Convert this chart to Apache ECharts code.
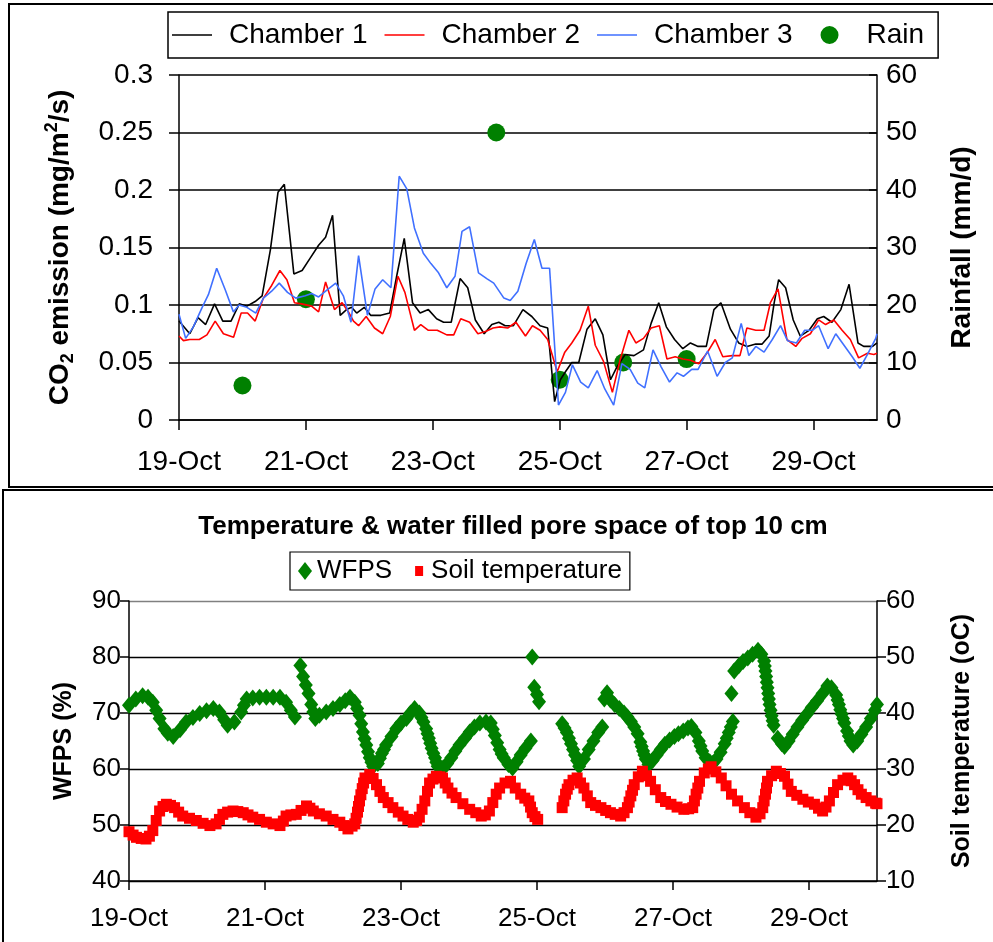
<!DOCTYPE html>
<html>
<head>
<meta charset="utf-8">
<script src="https://cdn.jsdelivr.net/npm/echarts@6/dist/echarts.min.js"></script>
<style>
html,body{margin:0;padding:0;background:#fff;}
#chart{width:993px;height:942px;}
</style>
</head>
<body>
<div id="chart"></div>
<script>
// ---------- DATA (x = days after 19-Oct 00:00) ----------
const xTickLabels = ['19-Oct', '21-Oct', '23-Oct', '25-Oct', '27-Oct', '29-Oct'];

const chamber1 = [[0,0.086],[0.17,0.075],[0.30,0.089],[0.42,0.083],[0.56,0.101],[0.69,0.086],[0.82,0.086],[0.95,0.101],[1.07,0.099],[1.20,0.103],[1.31,0.108],[1.44,0.148],[1.56,0.198],[1.66,0.205],[1.81,0.127],[1.94,0.130],[2.07,0.141],[2.20,0.152],[2.31,0.159],[2.42,0.178],[2.54,0.091],[2.64,0.096],[2.72,0.098],[2.80,0.093],[2.92,0.098],[3.02,0.091],[3.18,0.091],[3.32,0.093],[3.43,0.125],[3.55,0.158],[3.68,0.102],[3.80,0.093],[3.93,0.096],[4.06,0.088],[4.17,0.085],[4.29,0.085],[4.43,0.123],[4.55,0.115],[4.67,0.087],[4.81,0.075],[4.93,0.083],[5.04,0.085],[5.14,0.082],[5.27,0.082],[5.42,0.096],[5.56,0.090],[5.69,0.082],[5.81,0.080],[5.92,0.016],[6.01,0.035],[6.09,0.042],[6.19,0.050],[6.30,0.050],[6.43,0.079],[6.56,0.088],[6.68,0.074],[6.80,0.035],[6.90,0.046],[7.03,0.057],[7.17,0.056],[7.32,0.061],[7.44,0.084],[7.56,0.102],[7.68,0.081],[7.81,0.070],[7.94,0.062],[8.06,0.067],[8.18,0.064],[8.31,0.064],[8.43,0.096],[8.54,0.102],[8.69,0.079],[8.82,0.067],[8.95,0.064],[9.09,0.066],[9.19,0.066],[9.30,0.073],[9.38,0.102],[9.45,0.122],[9.56,0.115],[9.68,0.087],[9.79,0.073],[9.93,0.078],[10.06,0.088],[10.16,0.090],[10.29,0.085],[10.43,0.096],[10.56,0.118],[10.70,0.067],[10.79,0.064],[10.93,0.064],[11.0,0.067]];

const chamber2 = [[0,0.073],[0.07,0.069],[0.17,0.070],[0.32,0.070],[0.44,0.074],[0.57,0.086],[0.70,0.075],[0.86,0.072],[0.98,0.093],[1.08,0.093],[1.20,0.086],[1.33,0.106],[1.46,0.117],[1.59,0.130],[1.70,0.122],[1.82,0.102],[1.93,0.101],[2.09,0.099],[2.20,0.094],[2.31,0.120],[2.45,0.096],[2.57,0.102],[2.67,0.094],[2.75,0.086],[2.83,0.082],[2.95,0.090],[3.08,0.080],[3.21,0.075],[3.33,0.090],[3.45,0.125],[3.56,0.111],[3.71,0.078],[3.81,0.083],[3.93,0.078],[4.07,0.078],[4.22,0.074],[4.33,0.074],[4.44,0.088],[4.58,0.085],[4.71,0.075],[4.83,0.077],[4.95,0.080],[5.06,0.081],[5.18,0.080],[5.31,0.085],[5.46,0.073],[5.57,0.082],[5.69,0.078],[5.81,0.070],[5.96,0.042],[6.08,0.059],[6.19,0.067],[6.32,0.078],[6.45,0.099],[6.56,0.065],[6.69,0.051],[6.83,0.024],[6.95,0.052],[7.09,0.078],[7.20,0.067],[7.32,0.071],[7.44,0.080],[7.57,0.082],[7.69,0.053],[7.82,0.055],[7.94,0.053],[8.06,0.052],[8.19,0.049],[8.33,0.059],[8.45,0.070],[8.57,0.055],[8.72,0.056],[8.84,0.056],[8.95,0.080],[9.09,0.078],[9.22,0.078],[9.32,0.102],[9.44,0.114],[9.58,0.070],[9.72,0.064],[9.82,0.071],[9.95,0.075],[10.08,0.087],[10.19,0.083],[10.32,0.087],[10.45,0.078],[10.58,0.070],[10.71,0.054],[10.85,0.058],[10.95,0.057],[11.0,0.058]];

const chamber3 = [[0,0.092],[0.105,0.071],[0.226,0.081],[0.358,0.097],[0.463,0.109],[0.594,0.132],[0.73,0.113],[0.857,0.094],[0.946,0.100],[1.07,0.098],[1.21,0.093],[1.33,0.106],[1.46,0.112],[1.58,0.119],[1.71,0.111],[1.84,0.106],[1.99,0.108],[2.09,0.110],[2.20,0.107],[2.33,0.113],[2.47,0.119],[2.59,0.108],[2.71,0.085],[2.83,0.143],[2.97,0.091],[3.09,0.114],[3.21,0.122],[3.34,0.115],[3.47,0.212],[3.59,0.201],[3.71,0.167],[3.85,0.145],[3.97,0.136],[4.09,0.128],[4.22,0.115],[4.35,0.125],[4.46,0.164],[4.58,0.168],[4.72,0.128],[4.85,0.123],[4.96,0.119],[5.12,0.106],[5.22,0.104],[5.34,0.112],[5.47,0.136],[5.60,0.157],[5.72,0.132],[5.84,0.132],[5.98,0.013],[6.09,0.024],[6.20,0.048],[6.33,0.033],[6.45,0.028],[6.59,0.043],[6.71,0.027],[6.85,0.013],[6.98,0.049],[7.11,0.044],[7.23,0.032],[7.34,0.028],[7.47,0.061],[7.60,0.046],[7.73,0.033],[7.85,0.041],[7.95,0.038],[8.08,0.044],[8.18,0.044],[8.33,0.060],[8.48,0.038],[8.61,0.050],[8.72,0.054],[8.86,0.084],[8.98,0.056],[9.09,0.064],[9.22,0.059],[9.35,0.070],[9.48,0.082],[9.59,0.069],[9.73,0.067],[9.86,0.078],[9.98,0.078],[10.08,0.082],[10.23,0.062],[10.35,0.075],[10.48,0.065],[10.61,0.055],[10.73,0.045],[10.85,0.057],[10.98,0.071],[11.0,0.075]];

const rain = [[1,6],[2,21],[5,50],[6,7],[7,10],[8,10.6]];

const wfps = [[0,71.4],[0.1,72.5],[0.2,73.1],[0.28,72.8],[0.35,71.9],[0.40,70.5],[0.45,69.0],[0.52,67.2],[0.57,66.4],[0.65,65.8],[0.75,67.0],[0.84,68.4],[0.94,69.2],[1.04,69.9],[1.14,70.4],[1.24,70.8],[1.33,70.2],[1.40,68.8],[1.45,67.8],[1.55,68.4],[1.65,70.2],[1.69,71.4],[1.73,72.5],[1.82,72.7],[1.92,72.8],[2.02,72.8],[2.12,72.8],[2.22,72.8],[2.31,71.9],[2.38,70.5],[2.44,69.3],[2.52,78.5],[2.56,76.5],[2.60,75.0],[2.64,73.5],[2.68,71.5],[2.71,70.2],[2.74,69.0],[2.80,69.6],[2.90,70.2],[3.00,70.8],[3.10,71.5],[3.18,72.2],[3.25,72.8],[3.32,71.9],[3.355,70.8],[3.39,69.6],[3.415,68.1],[3.44,66.6],[3.465,65.4],[3.49,64.3],[3.515,63.1],[3.54,62.0],[3.565,61.2],[3.59,60.5],[3.66,61.0],[3.69,61.9],[3.72,62.8],[3.75,63.5],[3.78,64.3],[3.86,65.8],[3.93,67.2],[4.00,68.2],[4.08,69.0],[4.14,70.0],[4.20,70.8],[4.27,70.0],[4.30,69.2],[4.33,68.4],[4.37,67.2],[4.39,66.3],[4.41,65.5],[4.43,64.6],[4.45,63.7],[4.475,62.8],[4.50,62.0],[4.52,61.2],[4.54,60.5],[4.62,60.2],[4.68,61.0],[4.74,62.0],[4.80,63.2],[4.86,64.3],[4.94,65.5],[5.01,66.6],[5.08,67.5],[5.16,68.2],[5.25,68.4],[5.32,68.2],[5.35,67.1],[5.38,66.0],[5.415,64.7],[5.45,63.5],[5.48,62.7],[5.51,62.0],[5.58,60.8],[5.64,60.2],[5.70,61.3],[5.76,62.5],[5.83,63.7],[5.91,65.0],[5.93,80.0],[5.96,74.6],[6.0,73.3],[6.03,72.0],[6.37,68.1],[6.405,67.3],[6.44,66.5],[6.47,65.5],[6.50,64.5],[6.53,63.5],[6.56,62.5],[6.59,61.5],[6.62,60.5],[6.69,61.8],[6.76,63.5],[6.83,65.0],[6.90,66.5],[6.96,67.5],[6.99,72.5],[7.03,73.6],[7.08,72.3],[7.14,71.5],[7.21,70.8],[7.28,70.0],[7.33,69.3],[7.38,68.5],[7.43,67.5],[7.48,66.3],[7.52,64.8],[7.54,64.0],[7.56,63.2],[7.58,62.5],[7.60,61.8],[7.64,60.8],[7.70,61.5],[7.76,62.5],[7.82,63.5],[7.88,64.4],[7.95,65.2],[8.02,65.8],[8.08,66.3],[8.15,66.8],[8.22,67.3],[8.27,67.6],[8.33,66.5],[8.38,65.0],[8.405,64.1],[8.43,63.2],[8.48,62.0],[8.54,61.3],[8.58,61.0],[8.64,61.8],[8.70,63.0],[8.76,64.5],[8.79,65.5],[8.82,66.5],[8.85,67.5],[8.88,68.5],[8.86,73.5],[8.90,77.5],[8.97,78.5],[9.03,79.2],[9.10,79.8],[9.17,80.5],[9.25,81.2],[9.30,80.5],[9.34,79.3],[9.35,78.4],[9.36,77.5],[9.37,76.5],[9.38,75.5],[9.39,74.5],[9.40,73.5],[9.41,72.5],[9.42,71.5],[9.435,70.5],[9.45,69.5],[9.465,68.6],[9.48,67.8],[9.54,65.5],[9.60,64.5],[9.64,64.0],[9.70,65.0],[9.76,66.2],[9.83,67.5],[9.90,68.7],[9.97,69.8],[10.04,71.0],[10.12,72.2],[10.20,73.5],[10.27,74.8],[10.33,74.5],[10.40,73.2],[10.42,72.3],[10.44,71.5],[10.46,70.6],[10.48,69.8],[10.50,69.0],[10.52,68.2],[10.56,66.8],[10.585,65.9],[10.61,65.0],[10.65,64.3],[10.71,65.0],[10.77,66.2],[10.84,67.5],[10.91,69.0],[10.97,70.5],[11.0,71.5]];

const soilTemp = [[0,18.8],[0.06,18.2],[0.11,17.8],[0.18,17.6],[0.25,17.5],[0.30,18.0],[0.35,19.0],[0.40,20.8],[0.45,22.5],[0.50,23.3],[0.55,23.7],[0.61,23.5],[0.67,23.1],[0.73,22.3],[0.79,21.6],[0.89,21.2],[0.99,20.8],[1.09,20.3],[1.19,19.9],[1.28,20.2],[1.33,21.0],[1.38,21.9],[1.45,22.3],[1.53,22.5],[1.60,22.4],[1.68,22.2],[1.75,21.8],[1.82,21.4],[1.92,21.0],[2.02,20.5],[2.12,20.2],[2.22,19.9],[2.27,20.7],[2.31,21.6],[2.38,21.8],[2.46,21.9],[2.53,22.6],[2.61,23.4],[2.66,23.0],[2.71,22.5],[2.80,22.0],[2.90,21.6],[3.00,21.0],[3.10,20.5],[3.16,19.9],[3.22,19.3],[3.28,19.8],[3.32,20.2],[3.34,21.2],[3.36,22.3],[3.375,23.3],[3.39,24.3],[3.41,25.4],[3.43,26.5],[3.45,27.5],[3.47,28.4],[3.54,29.0],[3.59,28.3],[3.64,27.2],[3.69,26.0],[3.74,24.9],[3.81,24.0],[3.88,23.1],[3.96,22.3],[4.03,21.6],[4.10,21.0],[4.18,20.5],[4.23,20.8],[4.27,21.4],[4.31,22.8],[4.35,24.3],[4.39,26.0],[4.42,27.5],[4.47,28.2],[4.52,28.7],[4.57,28.6],[4.61,28.4],[4.65,27.5],[4.69,26.6],[4.75,25.7],[4.81,24.9],[4.91,23.8],[5.01,22.8],[5.10,22.2],[5.18,21.6],[5.24,21.8],[5.30,22.5],[5.35,24.0],[5.40,25.5],[5.45,26.6],[5.53,27.5],[5.61,27.8],[5.68,26.6],[5.76,25.5],[5.82,24.8],[5.88,24.3],[5.905,23.2],[5.93,22.2],[5.97,21.5],[6.01,21.0],[6.37,23.1],[6.395,24.3],[6.42,25.5],[6.445,26.4],[6.47,27.2],[6.53,28.0],[6.59,28.4],[6.64,27.5],[6.69,26.6],[6.74,25.2],[6.79,24.0],[6.86,23.5],[6.94,23.1],[7.01,22.6],[7.08,22.2],[7.15,21.9],[7.23,21.6],[7.28,22.2],[7.33,23.1],[7.355,24.1],[7.38,25.2],[7.405,26.2],[7.43,27.2],[7.49,28.6],[7.55,29.6],[7.61,28.8],[7.67,27.8],[7.74,26.3],[7.82,24.9],[7.89,24.2],[7.97,23.7],[8.06,23.2],[8.16,22.8],[8.23,22.9],[8.29,23.1],[8.315,24.3],[8.34,25.5],[8.365,26.6],[8.39,27.8],[8.46,29.3],[8.52,30.0],[8.56,30.4],[8.63,29.5],[8.71,28.4],[8.78,27.0],[8.86,25.5],[8.95,24.3],[9.05,23.1],[9.13,22.2],[9.22,21.4],[9.28,22.0],[9.32,23.1],[9.34,24.3],[9.36,25.5],[9.375,26.6],[9.39,27.8],[9.45,28.8],[9.52,29.6],[9.58,29.2],[9.64,28.7],[9.69,27.3],[9.74,26.0],[9.82,25.3],[9.91,24.6],[9.99,24.1],[10.08,23.7],[10.14,23.0],[10.20,22.5],[10.25,23.2],[10.30,24.3],[10.36,25.8],[10.42,27.2],[10.50,28.0],[10.57,28.4],[10.62,27.9],[10.67,27.2],[10.72,26.3],[10.77,25.5],[10.84,24.9],[10.91,24.3],[10.98,23.9],[11.0,23.8]];

// ---------- CHART ----------
const FONT = '"Liberation Sans", Arial, sans-serif';
const chart = echarts.init(document.getElementById('chart'), null, {renderer: 'canvas'});

function xLabel(v) {
  const i = Math.round(v / 2);
  return (Math.abs(v - i * 2) < 1e-6 && xTickLabels[i]) ? xTickLabels[i] : '';
}
const blackLine = {show: true, lineStyle: {color: '#000', width: 1.5}};
const lineIcon = 'path://M0,0L0,0.01M0,8.2L40,8.2L40,9.8L0,9.8ZM40,18L40,17.99';
const dotIcon = 'path://M0,0L0,0.01M11,9A9,9,0,1,0,29,9A9,9,0,1,0,11,9ZM40,18L40,17.99';

const option = {
  backgroundColor: '#fff',
  animation: false,
  textStyle: {fontFamily: FONT, color: '#000'},
  title: {
    text: 'Temperature & water filled pore space of top 10 cm',
    left: 508, top: 509, textAlign: 'center',
    textStyle: {fontFamily: FONT, fontSize: 26, fontWeight: 'bold', color: '#000'}
  },
  legend: [{
    left: 168, top: 12,
    padding: [9, 14, 9, 4],
    borderColor: '#000', borderWidth: 1.5,
    itemWidth: 40, itemHeight: 18, itemGap: 17,
    textStyle: {fontFamily: FONT, fontSize: 28, color: '#000', padding: [0, 0, 0, 12]},
    data: [
      {name: 'Chamber 1', icon: lineIcon},
      {name: 'Chamber 2', icon: lineIcon},
      {name: 'Chamber 3', icon: lineIcon},
      {name: 'Rain', icon: dotIcon}
    ]
  }, {
    left: 290, top: 552,
    padding: [6, 8, 6, 8],
    borderColor: '#000', borderWidth: 1.2,
    itemWidth: 14, itemHeight: 18, itemGap: 20,
    textStyle: {fontFamily: FONT, fontSize: 26, color: '#000'},
    data: [
      {name: 'WFPS', icon: 'path://M7,0L14,9L7,18L0,9Z'},
      {name: 'Soil temperature', icon: 'path://M0,0L0,0.01M3,4L11,4L11,14L3,14ZM14,18L14,17.99'}
    ]
  }],
  grid: [
    {left: 179, top: 75, width: 698, height: 345},
    {left: 129, top: 601, width: 748, height: 280}
  ],
  xAxis: [{
    type: 'value', gridIndex: 0, min: 0, max: 11, interval: 2,
    axisLine: blackLine,
    axisTick: {show: true, inside: false, length: 10, lineStyle: {color: '#000', width: 1.5}},
    axisLabel: {fontSize: 28, color: '#000', margin: 28, formatter: xLabel, showMaxLabel: false},
    splitLine: {show: false}
  }, {
    type: 'value', gridIndex: 1, min: 0, max: 11, interval: 2,
    axisLine: blackLine,
    axisTick: {show: true, inside: false, length: 9, lineStyle: {color: '#000', width: 1.5}},
    axisLabel: {fontSize: 26, color: '#000', margin: 25, formatter: xLabel, showMaxLabel: false},
    splitLine: {show: false}
  }],
  yAxis: [{
    type: 'value', gridIndex: 0, position: 'left', min: 0, max: 0.3, interval: 0.05,
    axisLine: blackLine,
    axisTick: {show: true, inside: false, length: 10, lineStyle: {color: '#000', width: 1.5}},
    axisLabel: {fontSize: 28, color: '#000', margin: 26},
    splitLine: {show: true, lineStyle: {color: '#000', width: 1.5}},
    name: '{a|CO}{sub|2}{a| emission (mg/m}{sup|2}{a|/s)}',
    nameLocation: 'middle', nameRotate: 90, nameGap: 102,
    nameTextStyle: {
      fontFamily: FONT, fontSize: 28, fontWeight: 'bold', color: '#000',
      rich: {
        a: {fontFamily: FONT, fontSize: 28, fontWeight: 'bold', color: '#000', lineHeight: 34},
        sub: {fontFamily: FONT, fontSize: 18, fontWeight: 'bold', color: '#000', verticalAlign: 'bottom', lineHeight: 34},
        sup: {fontFamily: FONT, fontSize: 18, fontWeight: 'bold', color: '#000', verticalAlign: 'top', lineHeight: 34}
      }
    }
  }, {
    type: 'value', gridIndex: 0, position: 'right', min: 0, max: 60, interval: 10,
    axisLine: blackLine,
    axisTick: {show: true, inside: true, length: 8, lineStyle: {color: '#000', width: 1.5}},
    axisLabel: {fontSize: 28, color: '#000', margin: 9},
    splitLine: {show: false},
    name: 'Rainfall (mm/d)', nameLocation: 'middle', nameRotate: 90, nameGap: 71,
    nameTextStyle: {fontFamily: FONT, fontSize: 28, fontWeight: 'bold', color: '#000'}
  }, {
    type: 'value', gridIndex: 1, position: 'left', min: 40, max: 90, interval: 10,
    axisLine: blackLine,
    axisTick: {show: true, inside: false, length: 9, lineStyle: {color: '#000', width: 1.5}},
    axisLabel: {fontSize: 26, color: '#000', margin: 8},
    splitLine: {show: true, lineStyle: {color: ['#000', '#000', '#000', '#000', '#000', '#808080'], width: 1.3}},
    name: 'WFPS (%)', nameLocation: 'middle', nameRotate: 90, nameGap: 52,
    nameTextStyle: {fontFamily: FONT, fontSize: 25, fontWeight: 'bold', color: '#000'}
  }, {
    type: 'value', gridIndex: 1, position: 'right', min: 10, max: 60, interval: 10,
    axisLine: blackLine,
    axisTick: {show: true, inside: false, length: 9, lineStyle: {color: '#000', width: 1.5}},
    axisLabel: {fontSize: 26, color: '#000', margin: 9},
    splitLine: {show: false},
    name: 'Soil temperature (oC)', nameLocation: 'middle', nameRotate: 90, nameGap: 73,
    nameTextStyle: {fontFamily: FONT, fontSize: 25, fontWeight: 'bold', color: '#000'}
  }],
  series: [
    {name: 'Chamber 1', type: 'line', xAxisIndex: 0, yAxisIndex: 0, data: chamber1, symbol: 'none',
     color: '#000000', lineStyle: {color: '#000000', width: 1.6}},
    {name: 'Chamber 2', type: 'line', xAxisIndex: 0, yAxisIndex: 0, data: chamber2, symbol: 'none',
     color: '#ff0000', lineStyle: {color: '#ff0000', width: 1.6}},
    {name: 'Chamber 3', type: 'line', xAxisIndex: 0, yAxisIndex: 0, data: chamber3, symbol: 'none',
     color: '#4070ff', lineStyle: {color: '#4070ff', width: 1.6}},
    {name: 'Rain', type: 'scatter', xAxisIndex: 0, yAxisIndex: 1, data: rain, symbol: 'circle', symbolSize: 18,
     itemStyle: {color: '#008000', opacity: 1}},
    {name: 'WFPS', type: 'scatter', xAxisIndex: 1, yAxisIndex: 2, data: wfps, symbol: 'diamond', symbolSize: [14, 17],
     itemStyle: {color: '#008000', opacity: 1}},
    {name: 'Soil temperature', type: 'scatter', xAxisIndex: 1, yAxisIndex: 3, data: soilTemp, symbol: 'rect', symbolSize: 11,
     itemStyle: {color: '#ff0000', opacity: 1}}
  ],
  graphic: [
    {type: 'rect', shape: {x: 9, y: 4, width: 1100, height: 483}, style: {fill: 'none', stroke: '#000', lineWidth: 2}, silent: true},
    {type: 'rect', shape: {x: 3, y: 490, width: 1100, height: 600}, style: {fill: 'none', stroke: '#000', lineWidth: 2}, silent: true}
  ]
};
chart.setOption(option);
</script>
</body>
</html>
